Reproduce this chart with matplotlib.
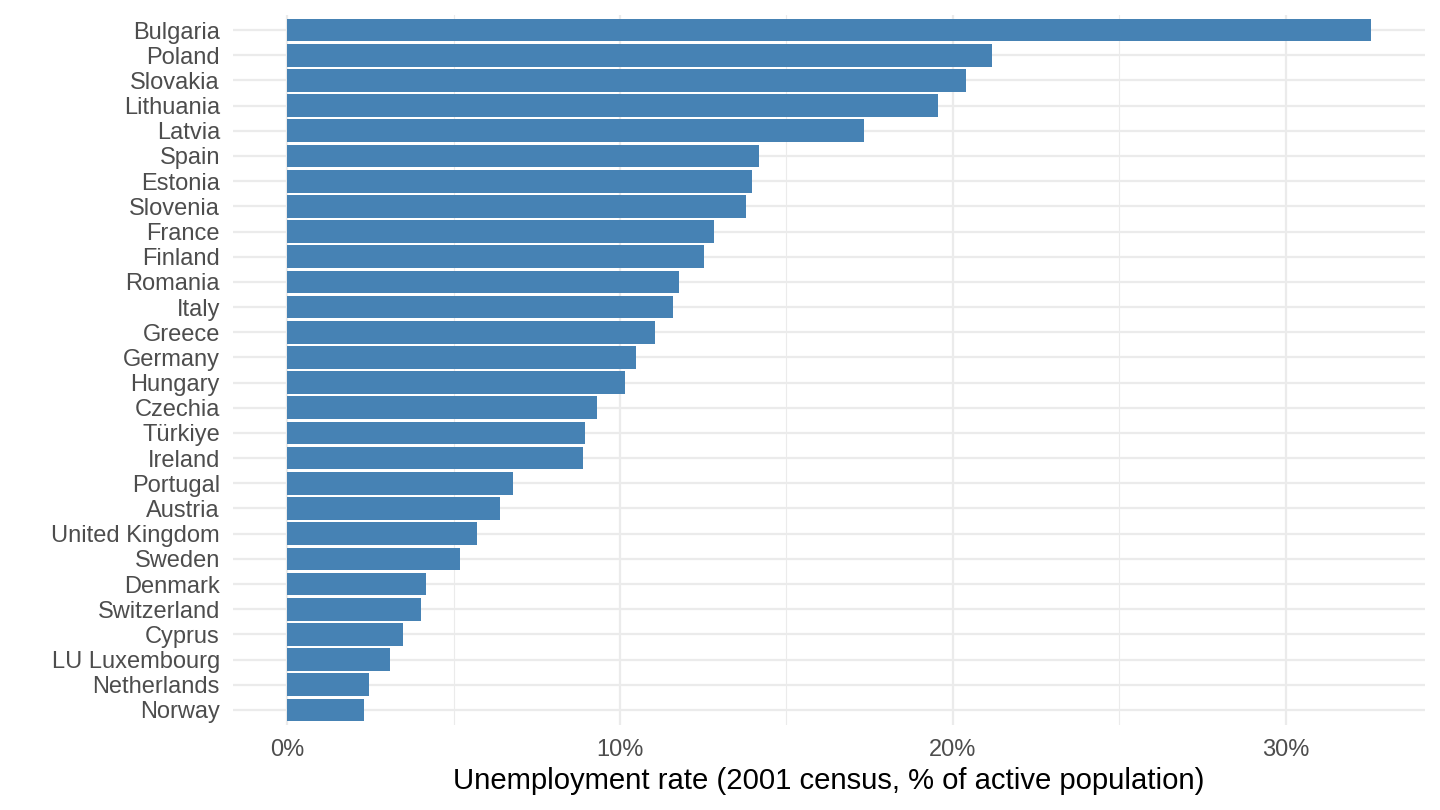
import matplotlib
matplotlib.use("Agg")
import matplotlib.pyplot as plt
from matplotlib.ticker import MultipleLocator, FuncFormatter

countries = ["Bulgaria", "Poland", "Slovakia", "Lithuania", "Latvia", "Spain", "Estonia",
             "Slovenia", "France", "Finland", "Romania", "Italy", "Greece", "Germany",
             "Hungary", "Czechia", "Türkiye", "Ireland", "Portugal", "Austria",
             "United Kingdom", "Sweden", "Denmark", "Switzerland", "Cyprus",
             "LU Luxembourg", "Netherlands", "Norway"]
rates = [32.56, 21.17, 20.40, 19.55, 17.32, 14.17, 13.96, 13.78, 12.81, 12.51,
         11.76, 11.58, 11.04, 10.47, 10.14, 9.30, 8.94, 8.88, 6.79, 6.40,
         5.71, 5.20, 4.16, 4.01, 3.47, 3.08, 2.45, 2.30]

plt.rcParams['font.family'] = ['Liberation Sans', 'DejaVu Sans']

fig = plt.figure(figsize=(10, 5.625), dpi=144)
ax = fig.add_axes([233/1440, 1-725/810, (1425-233)/1440, (725-15)/810])

n = len(countries)
ypos = list(range(n, 0, -1))
ax.barh(ypos, rates, height=0.9, color="#4682B4", zorder=3)

xmax = max(rates)
ax.set_xlim(-0.05*xmax, xmax*1.05)
ax.set_ylim(0.4, n + 0.6)
ax.set_yticks(ypos)
ax.set_yticklabels(countries)

ax.xaxis.set_major_locator(MultipleLocator(10))
ax.xaxis.set_minor_locator(MultipleLocator(5))
ax.xaxis.set_major_formatter(FuncFormatter(lambda v, p: f"{v:.0f}%"))

ax.grid(True, which='major', axis='both', color="#EBEBEB", linewidth=1.1, zorder=0)
ax.grid(True, which='minor', axis='x', color="#EBEBEB", linewidth=0.55, zorder=0)
for s in ax.spines.values():
    s.set_visible(False)
ax.tick_params(which='both', length=0)
ax.tick_params(axis='both', labelsize=11.8, labelcolor="#4D4D4D")
ax.tick_params(axis='y', pad=6.5)
ax.tick_params(axis='x', pad=7)
ax.set_xlabel("Unemployment rate (2001 census, % of active population)", fontsize=14.6,
              color="black", labelpad=3)

fig.savefig("out.png", dpi=144)
